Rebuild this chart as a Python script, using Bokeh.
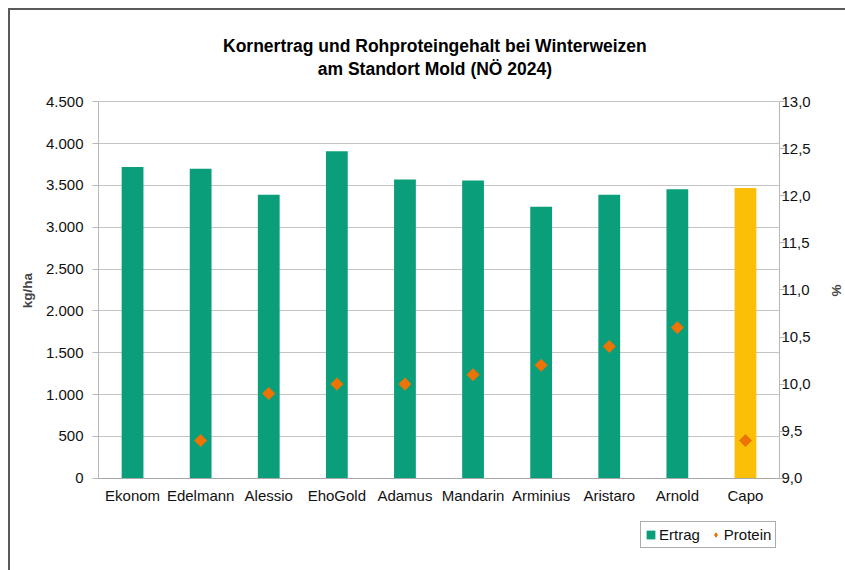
import numpy as np
from bokeh.plotting import figure
from bokeh.models import (ColumnDataSource, FactorRange, Range1d, LinearAxis, FixedTicker,
                          Legend, LegendItem, Label)
from bokeh.embed import file_html
from bokeh.resources import INLINE

# ---- data ----
categories = ["Ekonom", "Edelmann", "Alessio", "EhoGold", "Adamus",
              "Mandarin", "Arminius", "Aristaro", "Arnold", "Capo"]
ertrag = [3720, 3700, 3390, 3910, 3570, 3560, 3245, 3390, 3455, 3470]   # kg/ha
protein = [np.nan, 9.4, 9.9, 10.0, 10.0, 10.1, 10.2, 10.4, 10.6, 9.4]   # %
highlight = "Capo"

left_ticks = [0, 500, 1000, 1500, 2000, 2500, 3000, 3500, 4000, 4500]
left_tick_labels = ["0", "500", "1.000", "1.500", "2.000", "2.500",
                    "3.000", "3.500", "4.000", "4.500"]
right_ticks = [9.0, 9.5, 10.0, 10.5, 11.0, 11.5, 12.0, 12.5, 13.0]
right_tick_labels = ["9,0", "9,5", "10,0", "10,5", "11,0", "11,5", "12,0", "12,5", "13,0"]

title_line1 = "Kornertrag und Rohproteingehalt bei Winterweizen"
title_line2 = "am Standort Mold (NÖ 2024)"

# ---- layout constants (canvas pixels) ----
W, H = 835, 560
FRAME_TOP, FRAME_BOTTOM = 18, 540       # frame spans title .. legend
AXIS_TOP, AXIS_BOTTOM = 91, 466         # where the value axes run
TITLE_Y = [35, 58]                      # centres of the two title lines

GREEN = "#0b9e7a"
GOLD = "#fcbf08"
ORANGE = "#ec7404"
FONT = "Liberation Sans"

def stretched(lo, hi):
    per_px = (hi - lo) / (AXIS_BOTTOM - AXIS_TOP)
    return lo - (FRAME_BOTTOM - AXIS_BOTTOM) * per_px, hi + (AXIS_TOP - FRAME_TOP) * per_px

y_lo, y_hi = left_ticks[0], left_ticks[-1]
r_lo, r_hi = right_ticks[0], right_ticks[-1]

bar_colors = [GOLD if c == highlight else GREEN for c in categories]
src = ColumnDataSource(dict(cat=categories, ertrag=ertrag, protein=protein, color=bar_colors))

p = figure(x_range=FactorRange(*categories, range_padding=0.0),
           y_range=Range1d(*stretched(y_lo, y_hi)),
           width=W, height=H,
           min_border_left=88, min_border_right=68,
           min_border_top=FRAME_TOP, min_border_bottom=H - FRAME_BOTTOM,
           output_backend="svg", toolbar_location=None, title=None,
           styles={"margin-left": "8px", "margin-top": "8px",
                   "border-left": "2px solid #5a5a5a", "border-top": "2px solid #5a5a5a",
                   "box-sizing": "content-box"})
p.extra_y_ranges = {"protein": Range1d(*stretched(r_lo, r_hi))}

p.outline_line_color = None
p.background_fill_color = "white"
p.border_fill_color = "white"

bars = p.vbar(x="cat", top="ertrag", width=0.32, source=src,
              fill_color="color", line_color=None)
pts = p.scatter(x="cat", y="protein", source=src, y_range_name="protein",
                marker="square", angle=np.pi / 4, size=8.5,
                fill_color=ORANGE, line_color=ORANGE)
# legend key for the protein series (diamond symbol); its only row is the
# series' missing value, so it adds nothing to the plot area itself
key_src = ColumnDataSource(dict(cat=categories[:1], protein=protein[:1]))
pts_key = p.scatter(x="cat", y="protein", source=key_src, y_range_name="protein",
                    marker="diamond", size=14, fill_color=ORANGE, line_color=ORANGE)

# title lines (centred over the plot area)
def px_to_y(py):
    per_px = (y_hi - y_lo) / (AXIS_BOTTOM - AXIS_TOP)
    return y_lo + (AXIS_BOTTOM - py) * per_px

for txt, ty in zip([title_line1, title_line2], TITLE_Y):
    p.add_layout(Label(x=len(categories) / 2 - 0.06, y=px_to_y(ty), text=txt,
                       text_align="center", text_baseline="middle",
                       text_font=FONT, text_font_size="17.5px",
                       text_font_style="bold", text_color="#000000"))

# left axis
ya = p.yaxis[0]
ya.ticker = FixedTicker(ticks=left_ticks)
ya.bounds = (y_lo, y_hi)
ya.major_label_overrides = {t: l for t, l in zip(left_ticks, left_tick_labels)}
ya.axis_label = "kg/ha"
ya.axis_label_text_font = FONT
ya.axis_label_text_font_style = "bold"
ya.axis_label_text_font_size = "13.5px"
ya.axis_label_standoff = 8
ya.major_label_text_font = FONT
ya.major_label_text_font_size = "15px"
ya.major_label_text_color = "#111111"
ya.major_label_standoff = 9
ya.axis_line_color = "#b8b8b8"
ya.major_tick_line_color = "#b8b8b8"
ya.major_tick_out = 6
ya.major_tick_in = 0
ya.minor_tick_line_color = None

# right axis
ra = LinearAxis(y_range_name="protein", ticker=FixedTicker(ticks=right_ticks),
                bounds=(r_lo, r_hi))
ra.major_label_overrides = {t: l for t, l in zip(right_ticks, right_tick_labels)}
ra.axis_label = "%"
ra.axis_label_text_font = FONT
ra.axis_label_text_font_style = "bold"
ra.axis_label_text_font_size = "13.5px"
ra.axis_label_standoff = 15
ra.major_label_text_font = FONT
ra.major_label_text_font_size = "15px"
ra.major_label_text_color = "#111111"
ra.major_label_standoff = -3
ra.axis_line_color = "#b8b8b8"
ra.major_tick_line_color = "#b8b8b8"
ra.major_tick_out = 5
ra.major_tick_in = 0
ra.minor_tick_line_color = None
p.add_layout(ra, "right")

# bottom (category) axis sits on the zero line
xa = p.xaxis[0]
xa.fixed_location = y_lo
xa.major_label_text_font = FONT
xa.major_label_text_font_size = "15px"
xa.major_label_text_color = "#111111"
xa.major_label_standoff = 3
xa.axis_line_color = "#a8a8a8"
xa.major_tick_line_color = None
xa.minor_tick_line_color = None

p.xgrid.grid_line_color = None
p.ygrid.grid_line_color = "#c4c4c4"
p.ygrid.ticker = FixedTicker(ticks=left_ticks)

legend = Legend(items=[LegendItem(label="Ertrag", renderers=[bars]),
                       LegendItem(label="Protein", renderers=[pts_key])],
                orientation="horizontal", location=(542, 4))
legend.label_text_font = FONT
legend.label_text_font_size = "15px"
legend.label_text_color = "#111111"
legend.border_line_color = "#5a5a5a"
legend.border_line_width = 1.5
legend.glyph_width = 11
legend.glyph_height = 11
legend.label_standoff = 3
legend.spacing = 10
legend.padding = 4
legend.margin = 0
legend.background_fill_alpha = 1
p.add_layout(legend)

open("out.html", "w").write(file_html(p, INLINE))
